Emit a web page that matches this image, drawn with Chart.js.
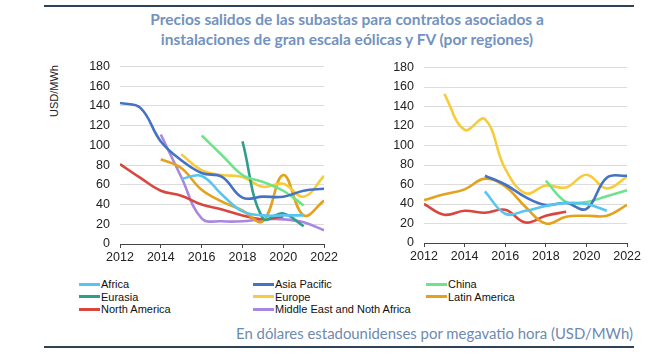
<!DOCTYPE html>
<html>
<head>
<meta charset="utf-8">
<script src="https://cdn.jsdelivr.net/npm/chart.js@4/dist/chart.umd.min.js"></script>
<style>
  html, body { margin:0; padding:0; background:#fff; width:649px; height:355px; overflow:hidden; position:relative; font-family: "Liberation Sans", Arial, sans-serif; }
  .rule { position:absolute; left:44px; width:590px; height:2px; background:#2e4356; }
  #title { position:absolute; left:0; width:694px; top:9px; text-align:center; font-family: Lato, "Open Sans", sans-serif; font-weight:700; font-size:15.5px; line-height:20px; color:#7392c0; }
  #footer { position:absolute; right:16px; top:324px; font-family: Lato, "Open Sans", sans-serif; font-size:14.9px; color:#6d8ab0; white-space:nowrap; }
  .cv { position:absolute; }
  #ylab { position:absolute; left:54px; top:91px; transform:translate(-50%,-50%) rotate(-90deg); font-size:11px; color:#222; white-space:nowrap; }
  .leg { position:absolute; font-size:11px; color:#111; white-space:nowrap; line-height:12px; }
  .leg span.sw { display:inline-block; width:21px; height:3px; vertical-align:middle; margin-right:1px; position:relative; top:-1px; }
</style>
</head>
<body>
<div class="rule" style="top:5px"></div>
<div id="title">Precios salidos de las subastas para contratos asociados a<br>instalaciones de gran escala eólicas y FV (por regiones)</div>
<div id="ylab">USD/MWh</div>
<div class="cv" style="left:60px; top:49px; width:280px; height:218px;"><canvas id="c1"></canvas></div>
<div class="cv" style="left:370px; top:50px; width:273px; height:216px;"><canvas id="c2"></canvas></div>
<div id="legend"></div>
<div id="footer">En dólares estadounidenses por megavatio hora (USD/MWh)</div>
<div class="rule" style="top:346px"></div>
<script>
const years = [2012,2013,2014,2015,2016,2017,2018,2019,2020,2021,2022];
const seriesNames = ["Africa","Asia Pacific","China","Eurasia","Europe","Latin America","North America","Middle East and Noth Africa"];
const seriesColors = ["#55c6ef","#4472c4","#6ee38c","#2f9e8b","#f7cc3c","#e4a21c","#d8463e","#a987e0"];

// Left chart values (USD/MWh), one per year 2012..2022; null = no data
const leftAfrica       = [null,null,null,66,69,50,33,29,29,29,null];
const leftAsiaPacific  = [143,138,104,85,72,68,47,48,48,54,56];
const leftChina        = [null,null,null,null,110,90,70,63,54,39,null];
const leftEurasia      = [null,null,null,null,null,null,104,26,31,18,null];
const leftEurope       = [null,null,null,91,75,70,68,58,61,48,69];
const leftLatinAmerica = [null,null,86,77,55,43,34,23,70,29,44];
const leftNorthAmerica = [81,67,54,49,40,35,29,25,28,null,null];
const leftMENA         = [null,null,111,68,26,23,23,25,25,22,14];

// Right chart values
const rightAfrica       = [null,null,null,53,30,33,38,41,40,33,null];
const rightAsiaPacific  = [null,null,null,69,60,47,39,41,35,67,69];
const rightChina        = [null,null,null,null,null,null,64,42,42,48,54];
const rightEurasia      = [null,null,null,null,null,null,null,null,null,null,null];
const rightEurope       = [null,153,116,127,76,51,59,57,70,56,68];
const rightLatinAmerica = [44,50,55,66,58,37,20,27,28,28,39];
const rightNorthAmerica = [40,29,33,31,34,21,28,32,null,null,null];
const rightMENA         = [null,null,null,null,null,null,null,null,null,null,null];

const yTicks = [0,20,40,60,80,100,120,140,160,180];

function pts(vals){ return years.map((y,i)=>({x:y, y:vals[i]})).filter(p=>p.y!==null); }

function makeChart(id, arrs, yWidth){
  const datasets = arrs.map((v,i)=>({
    label: seriesNames[i], data: pts(v), borderColor: seriesColors[i], backgroundColor: seriesColors[i],
    borderWidth: 2.6, pointRadius: 0, tension: 0.4, fill:false
  }));
  return new Chart(document.getElementById(id), {
    type:'line',
    data:{ datasets },
    options:{
      responsive:true, maintainAspectRatio:false, animation:false,
      layout:{ padding:{ left:0, right:12, top:0, bottom:0 } },
      plugins:{ legend:{display:false}, tooltip:{enabled:false} },
      scales:{
        x:{ type:'linear', min:2012, max:2022,
            ticks:{ stepSize:2, color:'#222', font:{family:'"Liberation Sans", Arial', size:12.5}, maxRotation:0, padding:2, callback:v=>String(v) },
            grid:{ display:true, drawOnChartArea:false, drawTicks:true, tickLength:4, color:'#444' },
            border:{ display:true, color:'#444', width:1 } },
        y:{ min:0, max:180,
            afterBuildTicks: s => { s.ticks = yTicks.map(v=>({value:v})); },
            afterFit: s => { s.width = yWidth; },
            ticks:{ color:'#222', font:{family:'"Liberation Sans", Arial', size:12.5}, padding:10 },
            grid:{ color:'#dcdcdc', lineWidth:1, drawTicks:false },
            border:{ display:false } }
      }
    }
  });
}
makeChart('c1', [leftAfrica,leftAsiaPacific,leftChina,leftEurasia,leftEurope,leftLatinAmerica,leftNorthAmerica,leftMENA], 60);
makeChart('c2', [rightAfrica,rightAsiaPacific,rightChina,rightEurasia,rightEurope,rightLatinAmerica,rightNorthAmerica,rightMENA], 54);

// HTML legend
const legPos = [[79,278],[253,278],[426,278],[79,290.5],[253,290.5],[426,290.5],[79,303],[253,303]];
const lg = document.getElementById('legend');
seriesNames.forEach((n,i)=>{
  const d = document.createElement('div'); d.className='leg';
  d.style.left = legPos[i][0]+'px'; d.style.top = legPos[i][1]+'px';
  d.innerHTML = '<span class="sw" style="background:'+seriesColors[i]+'"></span>'+n;
  lg.appendChild(d);
});
</script>
</body>
</html>
